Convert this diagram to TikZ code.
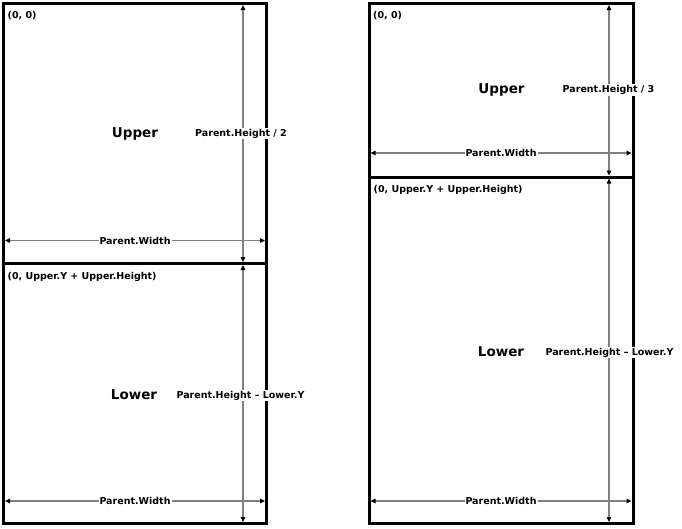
\documentclass[tikz,border=0pt]{standalone}
\usepackage{fontspec}
\setmainfont{DejaVu Sans}
\usetikzlibrary{arrows.meta}
\definecolor{dimgray}{HTML}{808080}
\tikzset{
  boxline/.style={draw=black, line width=3pt},
  dimline/.style={draw=dimgray, line width=1.5pt,
    {Triangle[length=5pt,width=4.5pt,color=black]}-{Triangle[length=5pt,width=4.5pt,color=black]}},
  lbl/.style={fill=white, inner sep=1pt, font=\bfseries\fontsize{9.5}{11}\selectfont},
  corner/.style={inner sep=1pt, anchor=west, font=\bfseries\fontsize{9.5}{11}\selectfont},
  part/.style={inner sep=0pt, font=\bfseries\fontsize{13.5}{16}\selectfont},
}
\begin{document}
\begin{tikzpicture}[x=1pt,y=-1pt]
\useasboundingbox (0,0) rectangle (682,528);
% ---------- left box ----------
\coordinate (LTL) at (3.5,3.5);
\coordinate (LBR) at (266.5,523.5);
\draw[boxline] (LTL) rectangle (LBR);
\draw[boxline] (3.5,263.5) -- (266.5,263.5);
\coordinate (LvTop) at (243,5);
\coordinate (LvMidA) at (243,262);
\coordinate (LvMidB) at (243,265);
\coordinate (LvBot) at (243,522);
\coordinate (LhUA) at (5,240.5);
\coordinate (LhUB) at (265,240.5);
\coordinate (LhLA) at (5,501);
\coordinate (LhLB) at (265,501);
\draw[dimline] (LvTop) -- (LvMidA);
\draw[dimline] (LvMidB) -- (LvBot);
\draw[dimline] (LhUA) -- (LhUB);
\draw[dimline] (LhLA) -- (LhLB);
\node[corner] (l00) at (6.5,16) {(0, 0)};
\node[corner] (lul) at (6.5,277) {(0, Upper.Y + Upper.Height)};
\node[part] (lupper) at (135,133.5) {Upper};
\node[part] (llower) at (134,394.5) {Lower};
\node[lbl] (lph2) at (241,133.5) {Parent.Height / 2};
\node[lbl] (lphl) at (240.5,395.5) {Parent.Height – Lower.Y};
\node[lbl] (lpw1) at (135,240.5) {Parent.Width};
\node[lbl] (lpw2) at (135,501) {Parent.Width};
% ---------- right box ----------
\coordinate (RTL) at (369,3.5);
\coordinate (RBR) at (633,523.5);
\draw[boxline] (RTL) rectangle (RBR);
\draw[boxline] (369,177) -- (633,177);
\coordinate (RvTop) at (609,5);
\coordinate (RvMidA) at (609,175.5);
\coordinate (RvMidB) at (609,178.5);
\coordinate (RvBot) at (609,522);
\coordinate (RhUA) at (370.5,153);
\coordinate (RhUB) at (631.5,153);
\coordinate (RhLA) at (370.5,501);
\coordinate (RhLB) at (631.5,501);
\draw[dimline] (RvTop) -- (RvMidA);
\draw[dimline] (RvMidB) -- (RvBot);
\draw[dimline] (RhUA) -- (RhUB);
\draw[dimline] (RhLA) -- (RhLB);
\node[corner] (r00) at (372,16) {(0, 0)};
\node[corner] (rul) at (372.5,190) {(0, Upper.Y + Upper.Height)};
\node[part] (rupper) at (501.5,90) {Upper};
\node[part] (rlower) at (501,351.5) {Lower};
\node[lbl] (rph3) at (608.5,90) {Parent.Height / 3};
\node[lbl] (rphl) at (609.5,352.5) {Parent.Height – Lower.Y};
\node[lbl] (rpw1) at (501,153) {Parent.Width};
\node[lbl] (rpw2) at (501,501) {Parent.Width};
\end{tikzpicture}
\end{document}
